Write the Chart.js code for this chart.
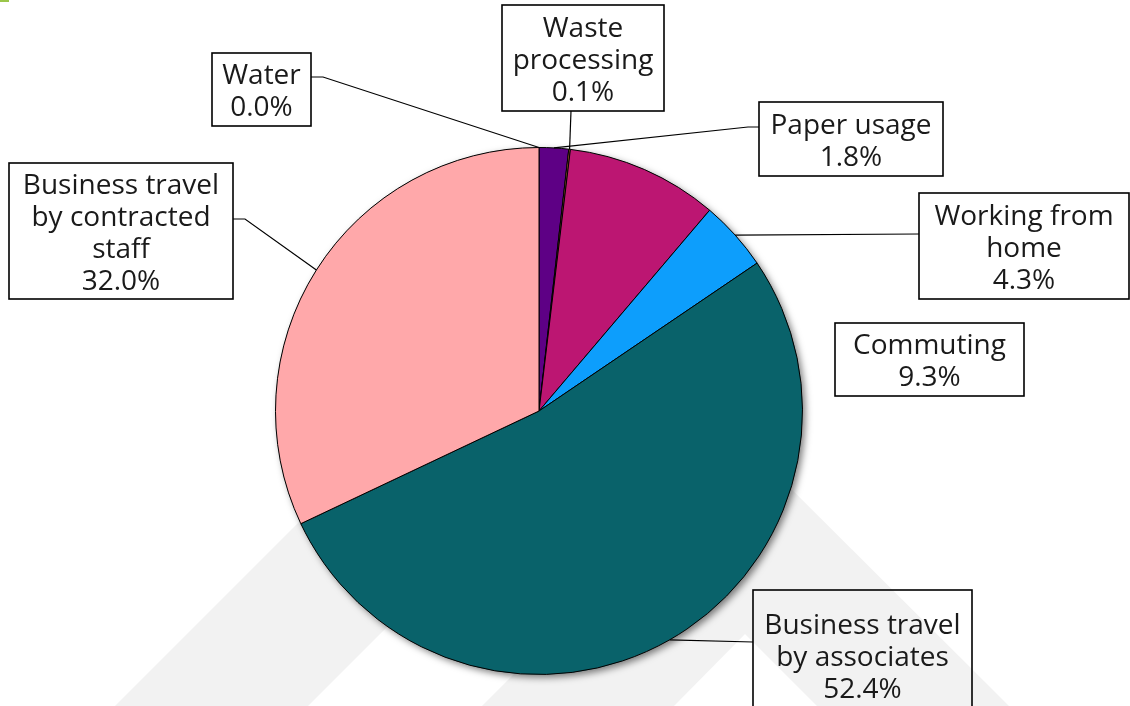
<!DOCTYPE html>
<html>
<head>
<meta charset="utf-8">
<title>Emissions by source</title>
<script src="https://cdn.jsdelivr.net/npm/chart.js@4.4.1/dist/chart.umd.min.js"></script>
<style>
  html, body { margin: 0; padding: 0; background: #fff; }
  #wrap { width: 1130px; height: 706px; }
</style>
</head>
<body>
<div id="wrap"><canvas id="pie" width="1130" height="706"></canvas></div>
<script>
/* ========== DATA ========== */
const categories = [
  "Water",
  "Paper usage",
  "Waste processing",
  "Commuting",
  "Working from home",
  "Business travel by associates",
  "Business travel by contracted staff",
];
const shares = [0.0, 1.8, 0.1, 9.3, 4.3, 52.4, 32.0];
const sliceColors = ["#7030a0", "#5e0085", "#b5642c", "#bc1672", "#0d9efc", "#09626a", "#ffa8aa"];

// how each category name is wrapped in its label box
const labelLines = [
  ["Water"],
  ["Paper usage"],
  ["Waste", "processing"],
  ["Commuting"],
  ["Working from", "home"],
  ["Business travel", "by associates"],
  ["Business travel", "by contracted", "staff"],
];

/* ========== LABEL LAYOUT ========== */
// box rect + where the leader leaves the box (elbow is optional)
const labelBoxes = [
  { x: 212, y: 53,  w: 99,  h: 73,  from: [311, 77],  elbow: [323, 77] },
  { x: 759, y: 102, w: 184, h: 74,  from: [759, 127], elbow: [748, 127] },
  { x: 502, y: 5,   w: 162, h: 106, from: [571, 111], elbow: null },
  { x: 835, y: 323, w: 189, h: 73,  from: null,       elbow: null },
  { x: 919, y: 193, w: 210, h: 106, from: [919, 234], elbow: null },
  { x: 753, y: 590, w: 219, h: 130, from: [753, 642], elbow: null },
  { x: 9,   y: 163, w: 224, h: 136, from: [233, 219], elbow: [245, 219] },
];

const FONT = '28px "Open Sans", sans-serif';
const LINE_H = 32;
const TEXT_DY = 3;

/* ========== PLUGINS ========== */
const backdrop = {
  id: "backdrop",
  beforeDraw(chart) {
    const ctx = chart.ctx;
    ctx.save();
    ctx.fillStyle = "#fff";
    ctx.fillRect(0, 0, chart.width, chart.height);

    // faint logo watermark
    ctx.fillStyle = "#f2f2f2";
    ctx.beginPath();
    ctx.moveTo(115, 706);
    ctx.lineTo(308, 706);
    ctx.lineTo(594, 420);
    ctx.lineTo(401, 420);
    ctx.closePath();
    ctx.fill();

    ctx.beginPath();
    ctx.moveTo(482, 706);
    ctx.lineTo(745, 443);
    ctx.lineTo(1009, 706);
    ctx.lineTo(817, 706);
    ctx.lineTo(745, 634);
    ctx.lineTo(674, 706);
    ctx.closePath();
    ctx.fill();

    ctx.fillStyle = "#9bc64a";
    ctx.fillRect(0, 0, 9, 2);
    ctx.restore();
  },
};

const pieShadow = {
  id: "pieShadow",
  beforeDatasetsDraw(chart) {
    const arc = chart.getDatasetMeta(0).data[0];
    if (!arc) return;
    const { x, y, outerRadius } = arc.getProps(["x", "y", "outerRadius"], true);
    const ctx = chart.ctx;
    ctx.save();
    ctx.shadowColor = "rgba(0,0,0,0.5)";
    ctx.shadowBlur = 7;
    ctx.shadowOffsetX = 3;
    ctx.shadowOffsetY = 3;
    ctx.fillStyle = "#888";
    ctx.beginPath();
    ctx.arc(x, y, outerRadius, 0, Math.PI * 2);
    ctx.fill();
    ctx.restore();
  },
};

const calloutLabels = {
  id: "calloutLabels",
  afterDatasetsDraw(chart) {
    const ctx = chart.ctx;
    const arcs = chart.getDatasetMeta(0).data;
    ctx.save();
    ctx.font = FONT;
    ctx.textAlign = "center";
    ctx.textBaseline = "middle";

    arcs.forEach((arc, i) => {
      const box = labelBoxes[i];
      const p = arc.getProps(["x", "y", "startAngle", "endAngle", "outerRadius"], true);
      const mid = (p.startAngle + p.endAngle) / 2;
      const ax = p.x + Math.cos(mid) * p.outerRadius;
      const ay = p.y + Math.sin(mid) * p.outerRadius;

      // leader line
      if (box.from) {
        ctx.strokeStyle = "#000";
        ctx.lineWidth = 1.2;
        ctx.beginPath();
        ctx.moveTo(box.from[0], box.from[1]);
        if (box.elbow) ctx.lineTo(box.elbow[0], box.elbow[1]);
        ctx.lineTo(ax, ay);
        ctx.stroke();
      }

      // box
      ctx.strokeStyle = "#000";
      ctx.lineWidth = 1.6;
      ctx.strokeRect(box.x, box.y, box.w, box.h);

      // text
      const lines = labelLines[i].concat([shares[i].toFixed(1) + "%"]);
      const cx = box.x + box.w / 2;
      const top = box.y + box.h / 2 - ((lines.length - 1) * LINE_H) / 2 + TEXT_DY;
      ctx.fillStyle = "#1a1a1a";
      lines.forEach((t, k) => ctx.fillText(t, cx, top + k * LINE_H));
    });
    ctx.restore();
  },
};

/* ========== CHART ========== */
new Chart(document.getElementById("pie").getContext("2d"), {
  type: "pie",
  data: {
    labels: categories,
    datasets: [
      {
        data: shares,
        backgroundColor: sliceColors,
        borderColor: "#000",
        borderWidth: 1,
      },
    ],
  },
  options: {
    responsive: false,
    animation: false,
    layout: { padding: { top: 147, bottom: 31, left: 275, right: 327 } },
    plugins: {
      legend: { display: false },
      tooltip: { enabled: false },
    },
  },
  plugins: [backdrop, pieShadow, calloutLabels],
});
</script>
</body>
</html>
